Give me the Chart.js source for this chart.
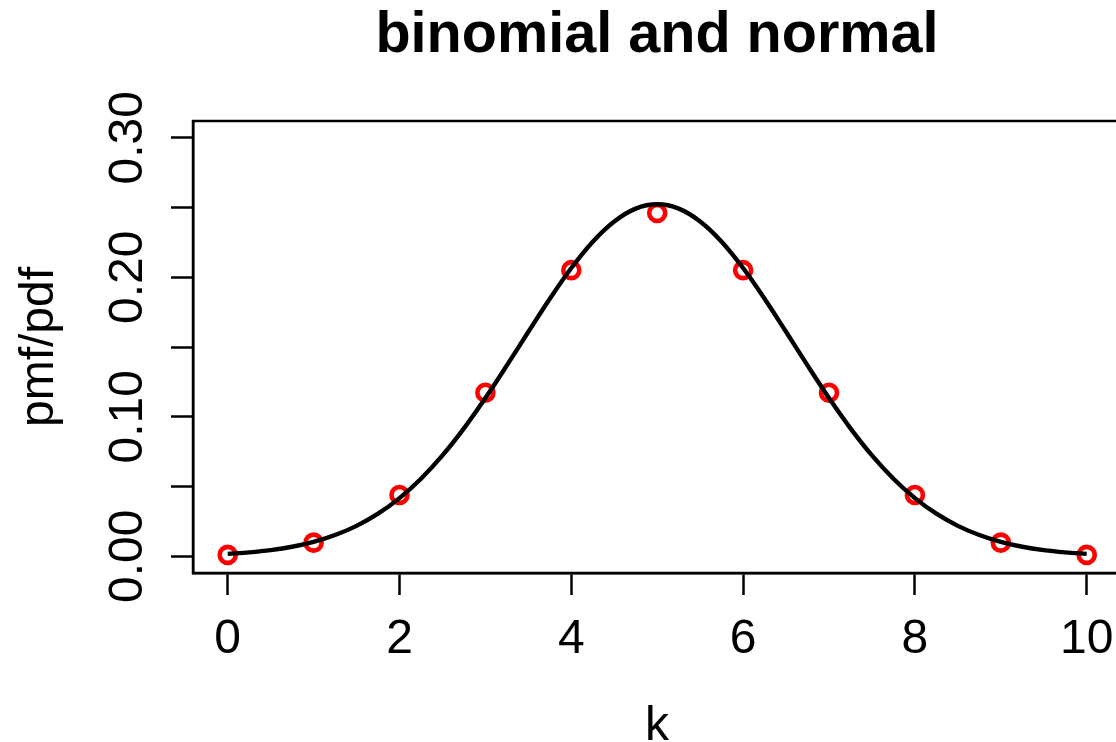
<!DOCTYPE html>
<html>
<head>
<meta charset="utf-8">
<script src="https://cdn.jsdelivr.net/npm/chart.js@4.4.1/dist/chart.umd.min.js"></script>
<style>
  html, body { margin: 0; padding: 0; background: #fff; }
  #wrap { width: 1116px; height: 742px; }
</style>
</head>
<body>
<div id="wrap"><canvas id="c" width="1116" height="742"></canvas></div>
<script>
// Binomial(10, 0.5) probabilities at k = 0..10
const kValues = [0, 1, 2, 3, 4, 5, 6, 7, 8, 9, 10];
const pmfValues = [0.00098, 0.00977, 0.04395, 0.11719, 0.20508, 0.24609,
                   0.20508, 0.11719, 0.04395, 0.00977, 0.00098];

// Normal density curve (mean 5, variance 2.5), sampled every 0.25
const curveX = [0, 0.25, 0.5, 0.75, 1, 1.25, 1.5, 1.75, 2, 2.25, 2.5, 2.75, 3, 3.25,
                3.5, 3.75, 4, 4.25, 4.5, 4.75, 5, 5.25, 5.5, 5.75, 6, 6.25, 6.5, 6.75,
                7, 7.25, 7.5, 7.75, 8, 8.25, 8.5, 8.75, 9, 9.25, 9.5, 9.75, 10];
const curveY = [0.0017, 0.0028, 0.0044, 0.0068, 0.0103, 0.0152, 0.0218, 0.0305,
                0.0417, 0.0556, 0.0723, 0.0917, 0.1134, 0.1368, 0.1609, 0.1846,
                0.2066, 0.2255, 0.2400, 0.2492, 0.2523, 0.2492, 0.2400, 0.2255,
                0.2066, 0.1846, 0.1609, 0.1368, 0.1134, 0.0917, 0.0723, 0.0556,
                0.0417, 0.0305, 0.0218, 0.0152, 0.0103, 0.0068, 0.0044, 0.0028, 0.0017];

// Axis ticks and labels
const xTicks = [0, 2, 4, 6, 8, 10];
const yTicks = [0, 0.05, 0.10, 0.15, 0.20, 0.25, 0.30];
const yTickLabels = ['0.00', '', '0.10', '', '0.20', '', '0.30'];

const chartTitle = 'binomial and normal';
const xTitle = 'k';
const yTitle = 'pmf/pdf';

const FONT = '"Liberation Sans", Arial, Helvetica, sans-serif';

const textPlugin = {
  id: 'rText',
  afterDraw(chart) {
    const ctx = chart.ctx;
    const a = chart.chartArea;
    const xs = chart.scales.x, ys = chart.scales.y;
    const frameRight = a.right + 5;
    ctx.save();
    // plot frame (right side runs past the canvas edge)
    ctx.strokeStyle = '#000';
    ctx.lineWidth = 2.5;
    ctx.strokeRect(a.left, a.top, frameRight - a.left, a.bottom - a.top);

    ctx.fillStyle = '#000';
    // title
    ctx.font = 'bold 57.6px ' + FONT;
    ctx.textAlign = 'center';
    ctx.textBaseline = 'alphabetic';
    const midX = (a.left + frameRight) / 2;
    ctx.fillText(chartTitle, midX, 52);

    // x tick labels
    ctx.font = '48px ' + FONT;
    xTicks.forEach(v => ctx.fillText(String(v), xs.getPixelForValue(v), 653));
    // x title
    ctx.fillText(xTitle, midX, 740);

    // y tick labels (rotated)
    yTicks.forEach((v, i) => {
      if (!yTickLabels[i]) return;
      ctx.save();
      ctx.translate(142, ys.getPixelForValue(v));
      ctx.rotate(-Math.PI / 2);
      ctx.fillText(yTickLabels[i], 0, 0);
      ctx.restore();
    });
    // y title
    ctx.save();
    ctx.translate(53, (a.top + a.bottom) / 2);
    ctx.rotate(-Math.PI / 2);
    ctx.fillText(yTitle, 0, 0);
    ctx.restore();
    ctx.restore();
  }
};

new Chart(document.getElementById('c'), {
  type: 'scatter',
  data: {
    datasets: [
      {
        type: 'line',
        label: 'normal',
        data: curveX.map((x, i) => ({ x: x, y: curveY[i] })),
        borderColor: '#000',
        borderWidth: 4.4,
        pointRadius: 0,
        fill: false,
        cubicInterpolationMode: 'monotone',
        order: 0
      },
      {
        label: 'binomial',
        data: kValues.map((k, i) => ({ x: k, y: pmfValues[i] })),
        borderColor: '#ff0000',
        backgroundColor: 'rgba(0,0,0,0)',
        borderWidth: 4.6,
        pointRadius: 8,
        pointStyle: 'circle',
        order: 1
      }
    ]
  },
  options: {
    responsive: false,
    devicePixelRatio: 1,
    animation: false,
    layout: { autoPadding: false, padding: { top: 121, left: 0, right: 0, bottom: 0 } },
    plugins: {
      legend: { display: false },
      title: { display: false },
      tooltip: { enabled: false }
    },
    scales: {
      x: {
        type: 'linear',
        min: -0.404,
        max: 10.341,
        afterBuildTicks: s => { s.ticks = xTicks.map(v => ({ value: v })); },
        afterFit: s => { s.height = 169; },
        ticks: { display: false },
        grid: {
          drawOnChartArea: false,
          drawTicks: true,
          tickLength: 22,
          tickWidth: 2.5,
          tickColor: '#000'
        },
        border: { display: true, color: '#000', width: 2.5 }
      },
      y: {
        type: 'linear',
        min: -0.012,
        max: 0.312,
        afterBuildTicks: s => { s.ticks = yTicks.map(v => ({ value: v })); },
        afterFit: s => { s.width = 193; },
        ticks: { display: false },
        grid: {
          drawOnChartArea: false,
          drawTicks: true,
          tickLength: 22,
          tickWidth: 2.5,
          tickColor: '#000'
        },
        border: { display: true, color: '#000', width: 2.5 }
      }
    }
  },
  plugins: [textPlugin]
});
</script>
</body>
</html>
